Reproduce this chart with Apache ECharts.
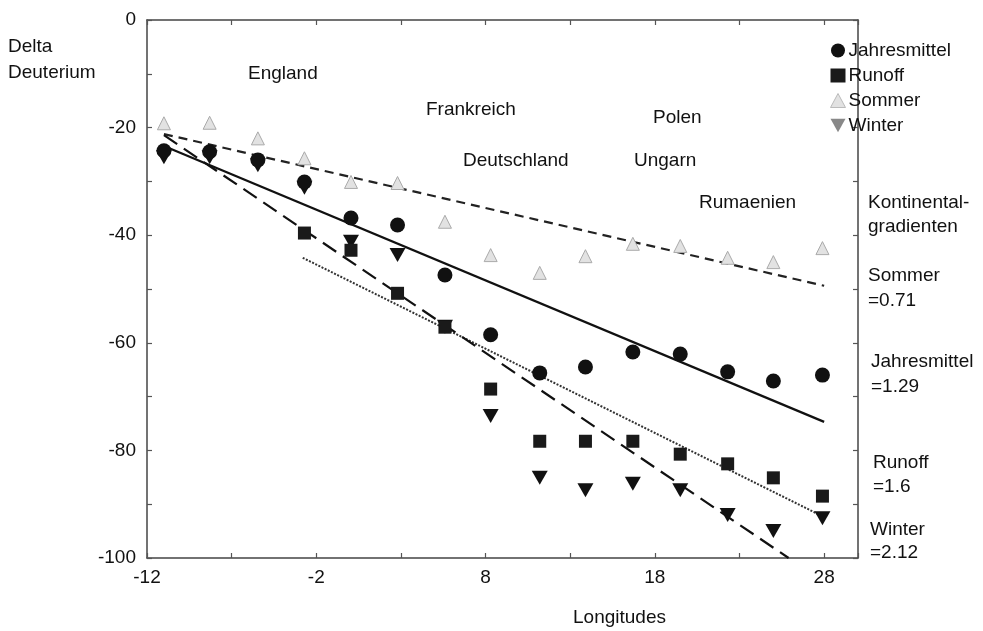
<!DOCTYPE html>
<html>
<head>
<meta charset="utf-8">
<script src="https://cdn.jsdelivr.net/npm/echarts@6/dist/echarts.min.js"></script>
<style>html,body{margin:0;padding:0;background:#fff}#c{width:983px;height:631px}</style>
</head>
<body>
<div id="c"></div>
<script>
// ---- data ----
const longitudes   = [-11, -8.3, -5.45, -2.7, 0.05, 2.8, 5.6, 8.3, 11.2, 13.9, 16.7, 19.5, 22.3, 25.0, 27.9];
const jahresmittel = [-24.3, -24.5, -26.0, -30.1, -36.8, -38.1, -47.4, -58.5, -65.6, -64.5, -61.7, -62.1, -65.4, -67.1, -66.0];
const runoff       = [null, null, null, -39.6, -42.8, -50.8, -57.1, -68.6, -78.3, -78.3, -78.3, -80.7, -82.5, -85.1, -88.5];
const sommer       = [-19.2, -19.1, -22.0, -25.7, -30.1, -30.3, -37.5, -43.7, -47.0, -43.9, -41.6, -42.0, -44.2, -45.0, -42.4];
const winter       = [-25.5, -25.5, -27.0, -31.2, -41.2, -43.7, -57.0, -73.6, -85.1, -87.4, -86.2, -87.4, -92.0, -95.0, -92.6];

// regression line endpoints [x, y]
const fitSommer = [[-11, -21.2], [28, -49.4]];
const fitJahres = [[-11, -23.4], [28, -74.7]];
const fitRunoff = [[-2.8, -44.2], [28, -92.4]];
const fitWinter = [[-11, -21.4], [25.9, -100]];

const countries = ['England', 'Frankreich', 'Polen', 'Deutschland', 'Ungarn', 'Rumaenien'];
const gradientLabels = [['Sommer', '=0.71'], ['Jahresmittel', '=1.29'], ['Runoff', '=1.6'], ['Winter', '=2.12']];
const seriesNames = ['Jahresmittel', 'Runoff', 'Sommer', 'Winter'];

const pts = arr => longitudes.map((x, i) => arr[i] == null ? null : [x, arr[i]]).filter(p => p);

const FONT = '"Liberation Sans", Arial, Helvetica, sans-serif';
const FS = 19;
const DOWN_TRI = 'path://M0,0 L10,0 L5,9 Z';

const chart = echarts.init(document.getElementById('c'), null, {renderer: 'canvas'});

const axisCommon = {
  type: 'value',
  axisLine: {show: true, onZero: false, lineStyle: {color: '#444', width: 1.5}},
  axisTick: {show: true, inside: true, length: 5, lineStyle: {color: '#555', width: 1.2}},
  minorTick: {show: true, splitNumber: 2, length: 5, lineStyle: {color: '#555', width: 1.2}},
  splitLine: {show: false},
  minorSplitLine: {show: false}
};

function txt(text, x, y, align) {
  return {
    type: 'text', x: x, y: y, silent: true,
    style: {text: text, font: FS + 'px ' + FONT, fill: '#111',
      textAlign: align || 'left', align: align || 'left',
      textVerticalAlign: 'middle', verticalAlign: 'middle'}
  };
}

const countryPos = [[248, 74], [426, 110], [653, 118], [463, 161], [634, 161], [699, 203]];
const gradPos = [[868, 276, 301], [871, 362, 387], [873, 463, 487], [870, 530, 553]];

const graphics = [
  txt('Delta', 8, 47), txt('Deuterium', 8, 73),
  txt('Longitudes', 573, 618),
  txt('Kontinental-', 868, 203), txt('gradienten', 868, 227)
];
countries.forEach((c, i) => graphics.push(txt(c, countryPos[i][0], countryPos[i][1])));
gradientLabels.forEach((g, i) => {
  graphics.push(txt(g[0], gradPos[i][0], gradPos[i][1]));
  graphics.push(txt(g[1], gradPos[i][0], gradPos[i][2]));
});

const option = {
  animation: false,
  backgroundColor: '#fff',
  textStyle: {fontFamily: FONT},
  grid: {left: 147, top: 20, right: 125, bottom: 73, containLabel: false},
  xAxis: [
    Object.assign({}, axisCommon, {
      min: -12, max: 30, interval: 10, position: 'bottom',
      axisLabel: {show: true, margin: 10, fontSize: FS, color: '#111', fontFamily: FONT,
        formatter: v => (v === 30 ? '' : String(v))}
    }),
    Object.assign({}, axisCommon, {
      min: -12, max: 30, interval: 10, position: 'top', axisLabel: {show: false}
    })
  ],
  yAxis: [
    Object.assign({}, axisCommon, {
      min: -100, max: 0, interval: 20, position: 'left',
      axisLabel: {show: true, margin: 11, fontSize: FS, color: '#111', fontFamily: FONT}
    }),
    Object.assign({}, axisCommon, {
      min: -100, max: 0, interval: 20, position: 'right', axisLabel: {show: false}
    })
  ],
  legend: {
    orient: 'vertical', left: 825, top: 36, itemWidth: 15, itemHeight: 14, itemGap: 6,
    textStyle: {fontSize: FS, color: '#111', fontFamily: FONT, padding: [0, 0, 0, -2]},
    data: [
      {name: 'Jahresmittel', icon: 'circle', itemStyle: {color: '#111'}},
      {name: 'Runoff', icon: 'rect', itemStyle: {color: '#1a1a1a'}},
      {name: 'Sommer', icon: 'triangle', itemStyle: {color: '#e2e2e2', borderColor: '#bbb', borderWidth: 1}},
      {name: 'Winter', icon: DOWN_TRI, itemStyle: {color: '#888'}}
    ]
  },
  graphic: graphics,
  series: [
    {name: 'fitSommer', type: 'line', data: fitSommer, symbol: 'none', z: 2,
      lineStyle: {color: '#222', width: 2.2, type: [9, 6]}},
    {name: 'fitJahres', type: 'line', data: fitJahres, symbol: 'none', z: 2,
      lineStyle: {color: '#111', width: 2.2, type: 'solid'}},
    {name: 'fitRunoff', type: 'line', data: fitRunoff, symbol: 'none', z: 2,
      lineStyle: {color: '#333', width: 2, type: [2, 1.5]}},
    {name: 'fitWinter', type: 'line', data: fitWinter, symbol: 'none', z: 2,
      lineStyle: {color: '#111', width: 2.2, type: [16, 8]}},
    {name: 'Sommer', type: 'scatter', data: pts(sommer), symbol: 'triangle', symbolSize: [13, 13], z: 3,
      itemStyle: {color: '#e2e2e2', borderColor: '#aaa', borderWidth: 1, opacity: 1}},
    {name: 'Winter', type: 'scatter', data: pts(winter), symbol: DOWN_TRI, symbolSize: [16, 14], z: 3,
      itemStyle: {color: '#111', opacity: 1}},
    {name: 'Runoff', type: 'scatter', data: pts(runoff), symbol: 'rect', symbolSize: 13, z: 4,
      itemStyle: {color: '#1a1a1a', opacity: 1}},
    {name: 'Jahresmittel', type: 'scatter', data: pts(jahresmittel), symbol: 'circle', symbolSize: 15, z: 5,
      itemStyle: {color: '#111', opacity: 1}}
  ]
};
chart.setOption(option);
</script>
</body>
</html>
